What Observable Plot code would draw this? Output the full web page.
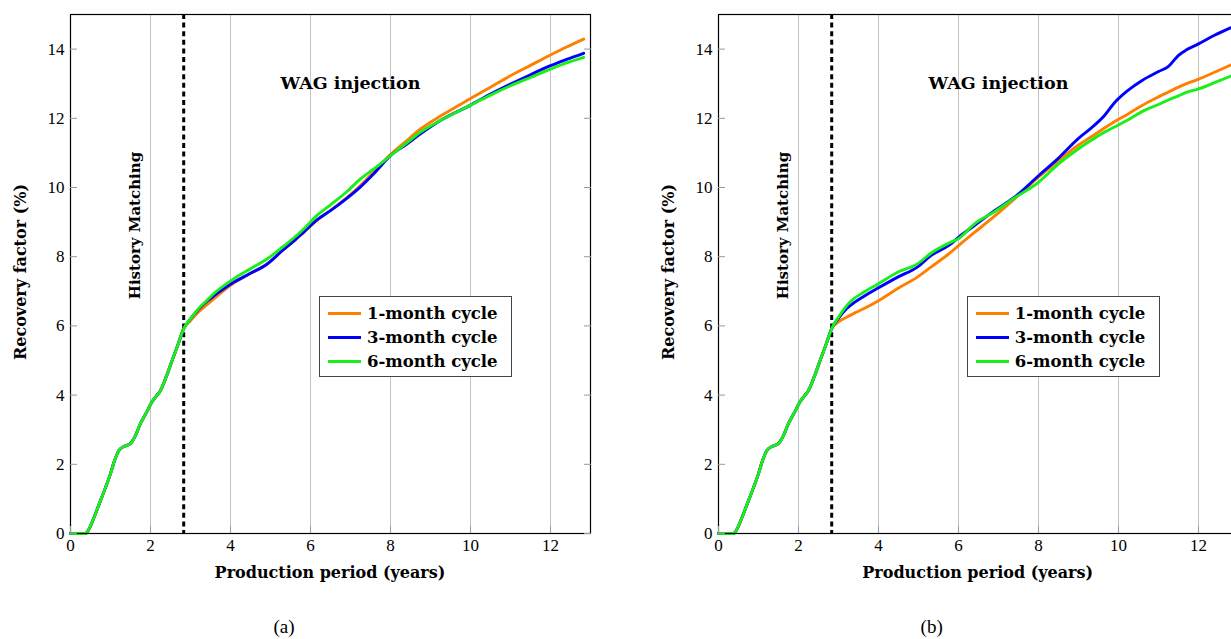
<!DOCTYPE html>
<html>
<head>
<meta charset="utf-8">
<script src="https://cdn.jsdelivr.net/npm/d3@7"></script>
<script src="https://cdn.jsdelivr.net/npm/@observablehq/plot@0.6"></script>
<style>
  html, body { margin: 0; padding: 0; background: #fff; }
  body { width: 1231px; height: 639px; overflow: hidden; position: relative; }
  .panel { position: absolute; top: 0; width: 620px; height: 639px; }
  .panel svg { position: absolute; left: 0; top: 0; }
  .xlab { position: absolute; left: 70px; width: 520px; top: 563px; text-align: center;
          font: bold 16px "DejaVu Serif", serif; color: #000; white-space: nowrap; }
  .ylab { position: absolute; left: 20px; top: 272px; transform: translate(-50%, -50%) rotate(-90deg);
          font: bold 16px "DejaVu Serif", serif; color: #000; white-space: nowrap; }
  .cap { position: absolute; left: 234px; width: 100px; top: 616px; text-align: center;
         font: 19px "Liberation Serif", serif; color: #000; }
  .legend { position: absolute; left: 319px; top: 296px; width: 191px; height: 79px;
            border: 1.3px solid #444; background: #fff; }
  .legend .row { position: absolute; left: 0; height: 24px; display: flex; align-items: center; }
  .legend .sw { width: 33px; height: 3px; margin-left: 8px; margin-right: 6px; }
  .legend .tx { font: bold 16.5px "DejaVu Serif", serif; color: #000; white-space: nowrap; }
</style>
</head>
<body>
<script>
// ---- data ----
const seriesNames = ["1-month cycle", "3-month cycle", "6-month cycle"];
const seriesColors = ["#ff8000", "#0000ff", "#19f019"];

const xTicks = [0, 2, 4, 6, 8, 10, 12];
const yTicks = [0, 2, 4, 6, 8, 10, 12, 14];

// history matching period (shared by all series)
const histT = [0, 0.38, 0.45, 0.6, 0.75, 0.9, 1.0, 1.1, 1.21, 1.35, 1.5, 1.62, 1.75, 1.9, 2.03, 2.15, 2.25, 2.4, 2.54, 2.7, 2.83];
const histV = [0, 0, 0.1, 0.5, 0.95, 1.4, 1.73, 2.1, 2.4, 2.52, 2.6, 2.82, 3.18, 3.5, 3.79, 3.98, 4.13, 4.55, 5.0, 5.5, 5.92];

// panel (a) WAG injection period
const aT = [3.0, 3.2, 3.42, 3.6, 4.08, 4.5, 4.92, 5.3, 5.58, 5.83, 6.17, 6.5, 6.9, 7.25, 7.6, 8.0, 8.4, 8.75, 9.3, 10.0, 10.5, 11.0, 11.5, 12.0, 12.4, 12.83];
const a1 = [6.15, 6.4, 6.62, 6.8, 7.24, 7.52, 7.8, 8.18, 8.45, 8.7, 9.06, 9.34, 9.7, 10.06, 10.48, 10.95, 11.35, 11.69, 12.1, 12.57, 12.9, 13.23, 13.53, 13.83, 14.06, 14.29];
const a3 = [6.2, 6.48, 6.72, 6.88, 7.26, 7.52, 7.79, 8.18, 8.45, 8.71, 9.07, 9.33, 9.68, 10.02, 10.42, 10.92, 11.25, 11.55, 11.97, 12.38, 12.7, 12.99, 13.26, 13.52, 13.7, 13.88];
const a6 = [6.2, 6.5, 6.75, 6.95, 7.36, 7.65, 7.94, 8.28, 8.54, 8.8, 9.2, 9.5, 9.87, 10.25, 10.55, 10.92, 11.28, 11.6, 11.97, 12.38, 12.67, 12.94, 13.18, 13.42, 13.6, 13.76];

// panel (b) WAG injection period
const bT = [3.0, 3.2, 3.4, 3.6, 4.0, 4.48, 4.97, 5.31, 5.81, 6.0, 6.4, 6.9, 7.4, 8.0, 8.5, 9.0, 9.3, 9.65, 9.9, 10.23, 10.6, 11.0, 11.25, 11.5, 11.7, 12.0, 12.4, 12.83];
const b1 = [6.12, 6.25, 6.37, 6.48, 6.73, 7.08, 7.41, 7.7, 8.13, 8.32, 8.7, 9.17, 9.67, 10.3, 10.78, 11.23, 11.45, 11.72, 11.9, 12.12, 12.38, 12.62, 12.76, 12.9, 13.0, 13.13, 13.33, 13.55];
const b3 = [6.22, 6.5, 6.68, 6.83, 7.1, 7.41, 7.7, 8.03, 8.37, 8.56, 8.9, 9.33, 9.72, 10.34, 10.85, 11.42, 11.7, 12.08, 12.45, 12.8, 13.1, 13.35, 13.5, 13.82, 13.98, 14.15, 14.4, 14.63];
const b6 = [6.25, 6.58, 6.8, 6.95, 7.22, 7.55, 7.79, 8.1, 8.42, 8.52, 8.95, 9.3, 9.7, 10.15, 10.68, 11.12, 11.35, 11.6, 11.75, 11.95, 12.2, 12.4, 12.53, 12.65, 12.75, 12.85, 13.03, 13.23];

const injectionStart = [2.83];
const annotWag = ["WAG injection"];
const annotHist = ["History Matching"];
const panelCaptions = ["(a)", "(b)"];
const axisLabelX = "Production period (years)";
const axisLabelY = "Recovery factor (%)";

function buildRows(tPost, seriesPost) {
  const rows = [];
  seriesNames.forEach((name, i) => {
    histT.forEach((t, j) => rows.push({series: name, t, v: histV[j]}));
    tPost.forEach((t, j) => rows.push({series: name, t, v: seriesPost[i][j]}));
  });
  return rows;
}

const SERIF = '"Liberation Serif", serif';
const BOLD = '"DejaVu Serif", serif';

function makePlot(rows) {
  return Plot.plot({
    width: 620,
    height: 600,
    marginLeft: 70,
    marginRight: 30,
    marginTop: 14,
    marginBottom: 67,
    x: {domain: [0, 13]},
    y: {domain: [0, 15]},
    color: {domain: seriesNames, range: seriesColors},
    style: {fontFamily: SERIF, fontSize: "17px", background: "transparent", color: "#000"},
    marks: [
      Plot.gridX(xTicks, {stroke: "#c4c4c4", strokeOpacity: 1, strokeWidth: 1}),
      Plot.ruleX(injectionStart, {stroke: "#000", strokeWidth: 3, strokeDasharray: "5,3.6"}),
      Plot.line(rows, {x: "t", y: "v", z: "series", stroke: "series", strokeWidth: 2.9, curve: "monotone-x"}),
      Plot.frame({stroke: "#000", strokeWidth: 1.2}),
      // inward ticks
      Plot.axisY(yTicks, {anchor: "left", tickSize: 7, dx: 7, stroke: "#999", fill: "none", tickFormat: () => "", label: null}),
      Plot.axisY(yTicks, {anchor: "right", tickSize: 7, dx: -7, stroke: "#999", fill: "none", tickFormat: () => "", label: null}),
      Plot.axisX(xTicks, {anchor: "bottom", tickSize: 7, dy: -7, stroke: "#999", fill: "none", tickFormat: () => "", label: null}),
      // tick labels
      Plot.axisY(yTicks, {anchor: "left", tickSize: 0, tickPadding: 6, label: null, fontSize: 17}),
      Plot.axisX(xTicks, {anchor: "bottom", tickSize: 0, tickPadding: 5, label: null, fontSize: 17}),
      // annotations
      Plot.text(annotWag, {x: 7, y: 13, text: d => d, fontFamily: BOLD, fontWeight: "bold", fontSize: 17.5}),
      Plot.text(annotHist, {x: 1.625, y: 8.9, text: d => d, rotate: -90, fontFamily: BOLD, fontWeight: "bold", fontSize: 15})
    ]
  });
}

function makePanel(left, rows, caption) {
  const div = document.createElement("div");
  div.className = "panel";
  div.style.left = left + "px";
  div.appendChild(makePlot(rows));

  const xl = document.createElement("div"); xl.className = "xlab"; xl.textContent = axisLabelX; div.appendChild(xl);
  const yl = document.createElement("div"); yl.className = "ylab"; yl.textContent = axisLabelY; div.appendChild(yl);
  const cp = document.createElement("div"); cp.className = "cap"; cp.textContent = caption; div.appendChild(cp);

  const lg = document.createElement("div"); lg.className = "legend";
  seriesNames.forEach((name, i) => {
    const r = document.createElement("div"); r.className = "row"; r.style.top = (4 + i * 24) + "px";
    const sw = document.createElement("div"); sw.className = "sw"; sw.style.background = seriesColors[i];
    const tx = document.createElement("div"); tx.className = "tx"; tx.textContent = name;
    r.appendChild(sw); r.appendChild(tx); lg.appendChild(r);
  });
  div.appendChild(lg);
  document.body.appendChild(div);
}

makePanel(0, buildRows(aT, [a1, a3, a6]), panelCaptions[0]);
makePanel(647.7, buildRows(bT, [b1, b3, b6]), panelCaptions[1]);
</script>
</body>
</html>
